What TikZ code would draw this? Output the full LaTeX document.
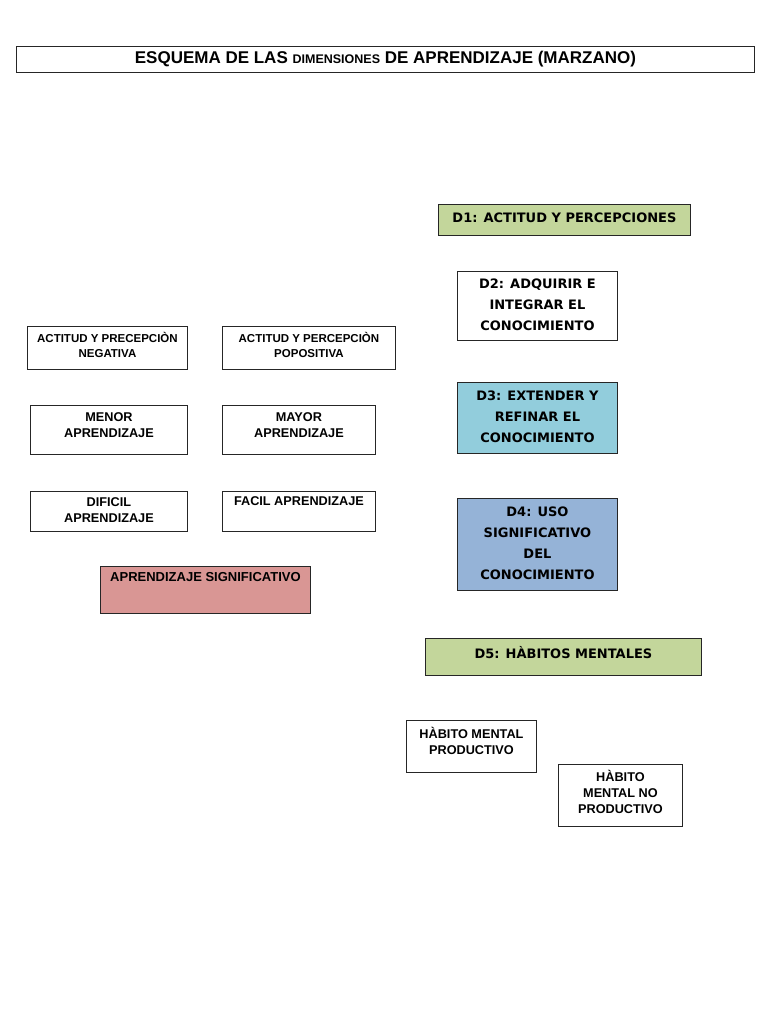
\documentclass[tikz,border=0pt]{standalone}
\usepackage{fontspec}
\setmainfont{Liberation Sans}
\newfontfamily\dfont{DejaVu Sans}
\usepackage{tikz}
\usetikzlibrary{positioning}
\definecolor{dgreen}{HTML}{C3D69B}
\definecolor{dcyan}{HTML}{92CDDC}
\definecolor{dblue}{HTML}{95B3D7}
\definecolor{sigpink}{HTML}{D99694}

\begin{document}
\begin{tikzpicture}[
    x=1pt, y=-1pt,
    box/.style={draw=black!85, line width=0.9pt, anchor=north west, inner sep=0pt},
    dtxt/.style={font={\dfont\bfseries\fontsize{13}{21}\selectfont}, align=center, inner sep=0pt},
    stxt/.style={font={\bfseries\fontsize{11.5}{15}\selectfont}, align=center, inner sep=0pt},
    mtxt/.style={font={\bfseries\fontsize{12.7}{16}\selectfont}, align=center, inner sep=0pt},
  ]
  \useasboundingbox[fill=white] (0,0) rectangle (768,1024);
  % title
  \node[box, minimum width=738, minimum height=26, font={\bfseries\fontsize{17}{17}\selectfont}] (title) at (16,46)
    {ESQUEMA DE LAS {\fontsize{12.5}{12.5}\selectfont DIMENSIONES} DE APRENDIZAJE (MARZANO)};

  % dimensions
  \node[box, fill=dgreen, minimum width=252, minimum height=31] (d1) at (438,204) {};
  \node[dtxt, below=8.5pt of d1.north] (d1t) {D1: ACTITUD Y PERCEPCIONES};
  \node[box, minimum width=160, minimum height=69] (d2) at (457,271) {};
  \node[dtxt, below=8pt of d2.north] (d2t) {D2: ADQUIRIR E\\INTEGRAR EL\\CONOCIMIENTO};
  \node[box, fill=dcyan, minimum width=160, minimum height=71] (d3) at (457,382) {};
  \node[dtxt, below=9pt of d3.north] (d3t) {D3: EXTENDER Y\\REFINAR EL\\CONOCIMIENTO};
  \node[box, fill=dblue, minimum width=160, minimum height=92] (d4) at (457,498) {};
  \node[dtxt, below=9pt of d4.north] (d4t) {D4: USO\\SIGNIFICATIVO\\DEL\\CONOCIMIENTO};
  \node[box, fill=dgreen, minimum width=276, minimum height=37] (d5) at (425,638) {};
  \node[dtxt, below=8pt of d5.north] (d5t) {D5: HÀBITOS MENTALES};

  % habits
  \node[box, minimum width=130, minimum height=52] (prod) at (406,720) {};
  \node[mtxt, below=7.5pt of prod.north] (prodt) {HÀBITO MENTAL\\PRODUCTIVO};
  \node[box, minimum width=124, minimum height=62] (noprod) at (558,764) {};
  \node[mtxt, below=6.5pt of noprod.north] (noprodt) {HÀBITO\\MENTAL NO\\PRODUCTIVO};

  % attitude
  \node[box, minimum width=160, minimum height=43] (neg) at (27,326) {};
  \node[stxt, below=6.5pt of neg.north] (negt) {ACTITUD Y PRECEPCIÒN\\NEGATIVA};
  \node[box, minimum width=173, minimum height=43] (pos) at (222,326) {};
  \node[stxt, below=6.5pt of pos.north] (post) {ACTITUD Y PERCEPCIÒN\\POPOSITIVA};
  \node[box, minimum width=157, minimum height=49] (menor) at (30,405) {};
  \node[mtxt, below=7pt of menor.north] (menort) {MENOR\\APRENDIZAJE};
  \node[box, minimum width=153, minimum height=49] (mayor) at (222,405) {};
  \node[mtxt, below=7pt of mayor.north] (mayort) {MAYOR\\APRENDIZAJE};
  \node[box, minimum width=157, minimum height=40] (dificil) at (30,491) {};
  \node[mtxt, below=6.5pt of dificil.north] (dificilt) {DIFICIL\\APRENDIZAJE};
  \node[box, minimum width=153, minimum height=40] (facil) at (222,491) {};
  \node[mtxt, below=5.5pt of facil.north] (facilt) {FACIL APRENDIZAJE};
  \node[box, fill=sigpink, minimum width=210, minimum height=47] (sig) at (100,566) {};
  \node[mtxt, font={\bfseries\fontsize{13}{16}\selectfont}, below=6.5pt of sig.north] (sigt) {APRENDIZAJE SIGNIFICATIVO};
\end{tikzpicture}
\end{document}
